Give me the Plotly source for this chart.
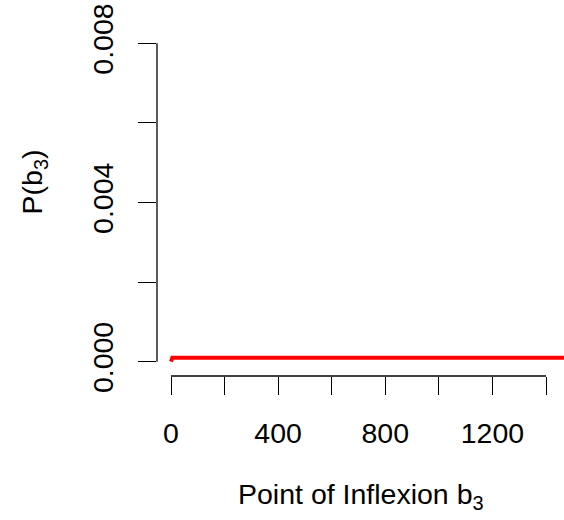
import plotly.graph_objects as go

# Prior density of the inflexion point b3
b3_values = [0, 5, 1500]
density = [0.0, 0.0001, 0.0001]

x_ticks = [0, 400, 800, 1200]
x_tick_text = ["0", "400", "800", "1200"]
x_axis_span = [0, 1400]
x_tick_step = 200
y_ticks = [0.0, 0.004, 0.008]
y_tick_text = ["0.000", "0.004", "0.008"]
y_axis_span = [0.0, 0.008]
y_tick_step = 0.002

FONT = dict(family="Liberation Sans, Arial, sans-serif", size=28.5, color="black")

fig = go.Figure()
fig.add_trace(go.Scatter(
    x=b3_values, y=density, mode="lines",
    line=dict(color="#ff0000", width=4),
    hoverinfo="skip", showlegend=False,
))

# R-style axis lines spanning only the first to last tick
fig.add_shape(type="line", xref="x", yref="paper",
              x0=x_axis_span[0], x1=x_axis_span[1], y0=0, y1=0,
              line=dict(color="black", width=1.3))
fig.add_shape(type="line", xref="paper", yref="y",
              x0=0, x1=0, y0=y_axis_span[0], y1=y_axis_span[1],
              line=dict(color="black", width=1.3))

fig.add_annotation(text="Point of Inflexion b<sub>3</sub>", xref="paper", yref="paper",
                   x=0.5, y=-0.32, xanchor="center", yanchor="middle",
                   showarrow=False, font=FONT)
fig.add_annotation(text="P(b<sub>3</sub>)", xref="paper", yref="paper",
                   x=-0.302, y=0.515, xanchor="center", yanchor="middle",
                   textangle=-90, showarrow=False, font=FONT)

tick_style = dict(ticks="outside", ticklen=18, tickwidth=1.3, tickcolor="black")

fig.update_layout(
    width=564, height=520,
    margin=dict(l=157, r=0, t=0, b=144),
    paper_bgcolor="white", plot_bgcolor="white",
    font=FONT,
    xaxis=dict(range=[-52.3, 1467.2], tickvals=x_ticks, ticktext=x_tick_text,
               minor=dict(dtick=x_tick_step, tick0=0, showgrid=False, **tick_style),
               showgrid=False, zeroline=False, showline=False,
               tickfont=FONT, ticklabelstandoff=14, **tick_style),
    yaxis=dict(range=[-0.000359, 0.009088], tickvals=y_ticks, ticktext=y_tick_text,
               minor=dict(dtick=y_tick_step, tick0=0, showgrid=False, **tick_style),
               showgrid=False, zeroline=False, showline=False,
               tickangle=-90, tickfont=FONT, ticklabelstandoff=14, **tick_style),
)

fig.write_html("out.html")
